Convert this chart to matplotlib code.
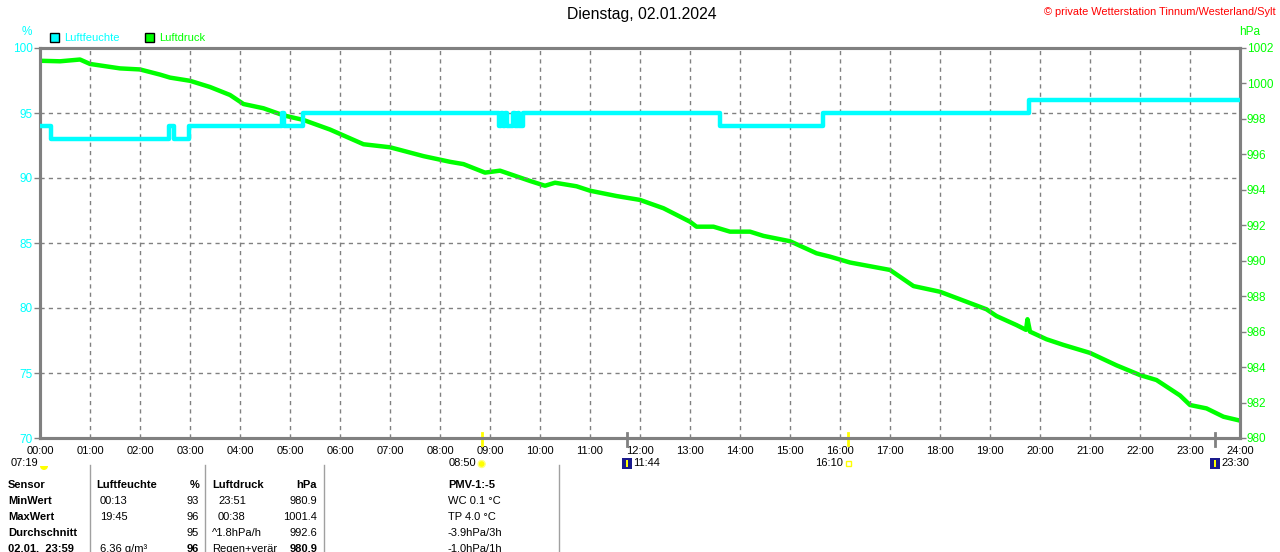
import matplotlib

matplotlib.use("Agg")
import matplotlib.pyplot as plt
import matplotlib.transforms as mtransforms
from matplotlib.patches import Rectangle, Circle, Wedge

plt.rcParams["font.family"] = ["Liberation Sans", "DejaVu Sans"]

# --- data (hours since 00:00) ---
hum_times = [0.0, 0.22, 2.58, 2.67, 2.97, 4.83, 4.88, 5.26, 9.17, 9.22, 9.25, 9.30, 9.33,
             9.45, 9.50, 9.55, 9.58, 9.66, 13.60, 15.66, 19.77, 24.0]
hum_values = [94, 93, 94, 93, 94, 95, 94, 95, 94, 95, 94, 95, 94,
              95, 94, 95, 94, 95, 94, 95, 96, 96]

p_times = [0.0, 0.4, 0.8, 1.0, 1.6, 2.0, 2.4, 2.6, 3.0, 3.4, 3.8, 4.07, 4.47, 4.87, 5.27,
           5.8, 6.47, 7.0, 7.67, 8.2, 8.47, 8.9, 9.2, 9.8, 10.1, 10.3, 10.73, 11.0, 11.53,
           12.0, 12.47, 13.0, 13.13, 13.47, 13.8, 14.2, 14.47, 15.0, 15.53, 15.8, 16.2,
           17.0, 17.47, 18.0, 18.47, 18.93, 19.13, 19.53, 19.72, 19.75, 19.8, 20.13, 20.47,
           21.0, 21.53, 22.0, 22.33, 22.8, 23.0, 23.33, 23.67, 23.97]
p_values = [1001.28, 1001.25, 1001.35, 1001.1, 1000.85, 1000.79, 1000.5, 1000.33, 1000.15,
            999.8, 999.35, 998.84, 998.6, 998.2, 997.94, 997.4, 996.57, 996.4, 995.9, 995.58,
            995.45, 994.97, 995.08, 994.5, 994.23, 994.4, 994.2, 993.95, 993.65, 993.43,
            992.96, 992.2, 991.92, 991.92, 991.64, 991.64, 991.4, 991.1, 990.42, 990.23,
            989.9, 989.48, 988.57, 988.25, 987.75, 987.26, 986.88, 986.37, 986.1, 986.7,
            986.0, 985.57, 985.25, 984.8, 984.1, 983.55, 983.27, 982.4, 981.86, 981.67,
            981.2, 981.0]

hour_ticks = list(range(25))
hour_labels = [f"{h:02d}:00" for h in hour_ticks]
hum_ticks = [70, 75, 80, 85, 90, 95, 100]
p_ticks = list(range(980, 1003, 2))

# sun / moon events on the time axis
sun_times = [8 + 50 / 60, 16 + 10 / 60]
sun_labels = ["08:50", "16:10"]
moon_times = [11 + 44 / 60, 23.5]
moon_labels = ["11:44", "23:30"]

row_labels = ["Sensor", "MinWert", "MaxWert", "Durchschnitt", "02.01.  23:59"]
hum_col_time = ["Luftfeuchte", "00:13", "19:45", "", "6.36 g/m³"]
hum_col_val = ["%", "93", "96", "95", "96"]
p_col_time = ["Luftdruck", "23:51", "00:38", "^1.8hPa/h", "Regen+verär"]
p_col_val = ["hPa", "980.9", "1001.4", "992.6", "980.9"]
pmv_col = ["PMV-1:-5", "WC 0.1 °C", "TP 4.0 °C", "-3.9hPa/3h", "-1.0hPa/1h"]

CYAN = "#00ffff"
GREEN = "#00ff00"
GRAY = "#808080"
W, H = 1280, 552

fig = plt.figure(figsize=(W / 100, H / 100), dpi=100)
fig.patch.set_facecolor("white")

ax = fig.add_axes([40 / W, 1 - 438 / H, 1200 / W, 390 / H])
ax2 = ax.twinx()

ax.plot(hum_times, hum_values, color=CYAN, linewidth=3.2, drawstyle="steps-post", zorder=3)
ax2.plot(p_times, p_values, color=GREEN, linewidth=3.2, zorder=3)

ax.set_xlim(0, 24)
ax.set_ylim(70, 100)
ax2.set_ylim(980, 1002)
ax.set_xticks(hour_ticks)
ax.set_xticklabels(hour_labels)
ax.set_yticks(hum_ticks)
ax2.set_yticks(p_ticks)

ax.grid(True, color=GRAY, linestyle=(0, (3, 3)), linewidth=1)
ax.set_axisbelow(True)
ax.tick_params(axis="x", length=0, pad=6, labelsize=8, labelcolor="black")
ax.tick_params(axis="y", length=4, width=1, color=GRAY, pad=1, labelsize=8.5, labelcolor=CYAN)
ax2.tick_params(axis="y", length=4, width=1, color=GRAY, pad=1, labelsize=8.5, labelcolor=GREEN)
for a in (ax, ax2):
    for s in a.spines.values():
        s.set_color(GRAY)
        s.set_linewidth(2.2)
ax.set_zorder(ax2.get_zorder() + 1)
ax.patch.set_visible(False)

# event ticks on the time axis
trans = mtransforms.blended_transform_factory(ax.transData, ax.transAxes)
for t in sun_times:
    ax.plot([t, t], [0.013, -0.018], color="#ffff00", linewidth=2, transform=trans, clip_on=False)
for t in moon_times:
    ax.plot([t, t], [0.013, -0.02], color=GRAY, linewidth=2, transform=trans, clip_on=False)

# overlay in pixel coordinates for texts and the table
ov = fig.add_axes([0, 0, 1, 1], zorder=-1)
ov.set_xlim(0, W)
ov.set_ylim(H, 0)
ov.axis("off")

ov.text(642, 15, "Dienstag, 02.01.2024", ha="center", va="center", fontsize=11.3)
ov.text(1276, 12, "© private Wetterstation Tinnum/Westerland/Sylt", ha="right", va="center",
        fontsize=7.9, color="red")
ov.text(27, 32, "%", ha="center", va="center", fontsize=8.5, color=CYAN)
ov.text(1250, 32, "hPa", ha="center", va="center", fontsize=8.5, color=GREEN)
ov.add_patch(Rectangle((50, 33), 9, 9, facecolor=CYAN, edgecolor="black", linewidth=1))
ov.text(64, 38, "Luftfeuchte", ha="left", va="center", fontsize=8, color=CYAN)
ov.add_patch(Rectangle((145, 33), 9, 9, facecolor=GREEN, edgecolor="black", linewidth=1))
ov.text(159, 38, "Luftdruck", ha="left", va="center", fontsize=8, color=GREEN)


def px(t):
    return 40 + t * 50


# event labels with small icons
ov.text(38, 463, "07:19", ha="right", va="center", fontsize=8)
ov.add_patch(Wedge((44, 466), 4, 0, 180, facecolor="#ffff00", edgecolor="none"))
for t, lab in zip(sun_times, sun_labels):
    ov.text(px(t) - 5, 463, lab, ha="right", va="center", fontsize=8)
ov.add_patch(Circle((px(sun_times[0]), 464), 3.5, facecolor="#ffff00", edgecolor="#ffff80"))
ov.add_patch(Rectangle((px(sun_times[1]) - 2, 461), 5, 5, facecolor="none", edgecolor="#ffff00"))
for t, lab in zip(moon_times, moon_labels):
    x = px(t)
    ov.add_patch(Rectangle((x - 5, 458), 10, 11, facecolor="#1a1a8c", edgecolor="none"))
    ov.add_patch(Rectangle((x - 1, 460), 2, 7, facecolor="#ffff00", edgecolor="none"))
    ov.text(x + 6, 463, lab, ha="left", va="center", fontsize=8)

# table
for xl in (90, 205, 324, 559):
    ov.plot([xl, xl], [465, H], color="#a0a0a0", linewidth=1)
row_y = [485, 501, 517, 533, 549]
for i, y in enumerate(row_y):
    head = i == 0
    ov.text(8, y, row_labels[i], ha="left", va="center", fontsize=8, fontweight="bold")
    ov.text(96 if head else 100, y, hum_col_time[i], ha="left", va="center", fontsize=8,
            fontweight="bold" if head else "normal")
    ov.text(199, y, hum_col_val[i], ha="right", va="center", fontsize=8,
            fontweight="bold" if i in (0, 4) else "normal")
    ov.text(218 if i in (1, 2) else 212, y, p_col_time[i], ha="left",
            va="center", fontsize=8, fontweight="bold" if head else "normal")
    ov.text(317, y, p_col_val[i], ha="right", va="center", fontsize=8,
            fontweight="bold" if i in (0, 4) else "normal")
    ov.text(448, y, pmv_col[i], ha="left", va="center", fontsize=8,
            fontweight="bold" if head else "normal")

fig.savefig("out.png", dpi=100, facecolor="white")
